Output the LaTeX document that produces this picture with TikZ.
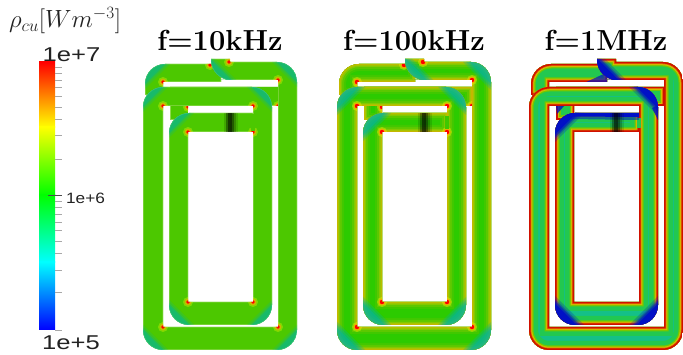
\documentclass[tikz,border=0pt]{standalone}
\usepackage{amsmath,amssymb}
\usepackage{xcolor}
\usepackage{fontspec}
\usepackage{tikz}
\newfontfamily\barfont{Liberation Sans}
\definecolor{redend}{HTML}{FF0000}
\definecolor{yellowmid}{HTML}{FFFF00}
\definecolor{greenmid}{HTML}{00FF00}
\definecolor{cyanmid}{HTML}{00FFFF}
\definecolor{blueend}{HTML}{0000FF}
\definecolor{tickgray}{HTML}{A8A8A8}
\definecolor{labdark}{HTML}{222222}
\definecolor{metalA}{HTML}{4CC800}
\definecolor{metalB}{HTML}{2CCB00}
\definecolor{metalC}{HTML}{14C088}
\definecolor{edgeA}{HTML}{8FD850}
\definecolor{bandBa}{HTML}{40C800}
\definecolor{bandBb}{HTML}{5CC800}
\definecolor{bandBc}{HTML}{84C800}
\definecolor{bandBd}{HTML}{A8C400}
\definecolor{bandBe}{HTML}{C4B800}
\definecolor{bandCa}{HTML}{22C850}
\definecolor{bandCb}{HTML}{70C800}
\definecolor{bandCc}{HTML}{D0C000}
\definecolor{bandCd}{HTML}{E07000}
\definecolor{bandCe}{HTML}{D01000}
\definecolor{tealglow}{HTML}{00B4A0}
\definecolor{blueglow}{HTML}{0010C8}
\definecolor{hotorange}{HTML}{FFA000}
\tikzset{
  tickline/.style={draw=tickgray, line width=0.8pt},
  barlab/.style={text=labdark, font=\barfont},
  title/.style={anchor=base, font=\fontsize{29}{32}\selectfont\bfseries},
}
% the winding, from the top lead round to the end of the inner strip
\newcommand{\spiralpath}{(211,59) [rounded corners=20pt] -- (211,80) -- (240,80) [sharp corners]
  -- (278,80) -- (278,327) -- (163,327) -- (163,106) -- (253,106) -- (253,302) -- (188,302)
  -- (188,132) -- (253,132) -- (253,113) [rounded corners=20pt] -- (169,113) -- (169,325)
  -- (272,325) -- (272,87) -- (143,87) -- (143,350) -- (297,350) -- (297,62) [sharp corners]
  -- (230,62) -- (230,59) -- cycle}
\newcommand{\backleftpath}{(221,64) [rounded corners=20pt] -- (145,64) [sharp corners]
  -- (145,95) -- (163,95) -- (163,82) -- (221,82) -- cycle}
\newcommand{\backlinkpath}{(170,120) -- (170,87) -- (278,87) -- (278,106) -- (188,106) -- (188,120) -- cycle}
% fill, edge bands, soft spots at the inner corners, then extras, all inside the shape
\newcommand{\layered}[4]{
  \begin{scope}
    \clip #1;
    \fill[#2] #1;
    \foreach \wd/\col in \layers { \draw[line width=\wd pt, draw=\col] #1; }
    \foreach \p in {#3} {
      \foreach \rad/\col/\op in \spots {
        \fill[\col, opacity=\op] \p circle (\rad pt);
      }
    }
    #4
  \end{scope}
}
% wedge on a rounded corner: corner x, corner y, direction x, direction y, colour
\newcommand{\glowturn}[5]{
  \foreach \len/\op in \glowlist {
    \fill[#5, opacity=\op] (#1+\len*#3,#2) -- (#1,#2) -- (#1,#2+\len*#4) -- cycle;
  }
}
\newcommand{\cornerset}{
  \glowturn{143}{87}{1}{1}{tealglow}
  \glowturn{272}{87}{-1}{1}{tealglow}
  \glowturn{169}{113}{1}{1}{tealglow}
  \glowturn{169}{325}{1}{-1}{tealglow}
  \glowturn{272}{325}{-1}{-1}{tealglow}
  \glowturn{143}{350}{1}{-1}{tealglow}
  \glowturn{297}{350}{-1}{-1}{tealglow}
  \glowturn{297}{62}{-1}{1}{tealglow}
  \glowturn{211}{80}{1}{-1}{tealglow}
}
% #1 shift, #2 metal colour, #3 extras on the winding, #4 extras on the back strips
\newcommand{\coilpanel}[4]{
  \begin{scope}[xshift=#1pt]
    \layered{\backleftpath}{#2}{(163,82),(210,65)}{#4}
    \layered{\backlinkpath}{#2}{(188,107),(278,106)}{#4}
    \layered{\spiralpath}{#2}{(163,106),(253,106),(188,132),(253,132),(188,302),(253,302),(163,327),(278,327),(278,80),(229,62)}{
      #3
      \foreach \xa/\op in {224/.15,226/.45,228/.72,230/.75,232/.55,234/.3,236/.12} {
        \fill[black, opacity=\op] (\xa,113) rectangle +(2,19);
      }
    }
  \end{scope}
}

\begin{document}
\begin{tikzpicture}[x=1pt,y=-1pt]
  \useasboundingbox (0,0) rectangle (683,355);

  % colour bar
  \foreach \ya/\yb/\ca/\cb in {62/127.2/redend/yellowmid, 127/195.2/yellowmid/greenmid,
      195/262.2/greenmid/cyanmid, 262/330/cyanmid/blueend} {
    \shade[top color=\ca, bottom color=\cb] (39,\ya) rectangle (55,\yb);
  }
  \foreach \ty in {67,73,80,87,96,107,119,135,159,201,207,214,222,230,241,253,270,292,330} {
    \draw[tickline] (55,\ty) -- (62,\ty);
  }
  \draw[tickline, draw=black!70] (48,195) -- (62,195);

  \node[text=labdark, font=\fontsize{24}{28}\selectfont] (unitlab) at (65,21) {$\rho_{cu}[Wm^{-3}]$};
  \node[barlab, font=\barfont\fontsize{20}{24}\selectfont, xscale=1.28] (maxlab) at (71.5,55) {1e+7};
  \node[barlab, font=\barfont\fontsize{15}{18}\selectfont, xscale=1.15] (midlab) at (85.5,198) {1e+6};
  \node[barlab, font=\barfont\fontsize{20}{24}\selectfont, xscale=1.28] (minlab) at (71,343) {1e+5};

  % 10 kHz
  \def\layers{1/edgeA}
  \def\spots{5/yellowmid/.3, 3.4/hotorange/.6, 1.9/redend/1}
  \def\glowlist{25/.2, 22/.3, 20/.4}
  \coilpanel{0}{metalA}{\cornerset \fill[metalA] (251,114) rectangle (255,131.5);}{\glowturn{145}{64}{1}{1}{tealglow}}

  % 100 kHz
  \def\layers{14/bandBa, 10/bandBb, 6/bandBc, 3.5/bandBd, 1.5/bandBe}
  \def\spots{5/yellowmid/.35, 3.6/hotorange/.7, 2.2/redend/1}
  \def\glowlist{28/.3, 25/.4, 22/.5}
  \coilpanel{194}{metalB}{\cornerset \fill[bandBa] (251,116) rectangle (255,129.5);}{}

  % 1 MHz
  \def\layers{18/bandCa, 9/bandCb, 6.5/bandCc, 4.5/bandCd, 3/bandCe}
  \def\spots{0/redend/0}
  \def\glowlist{29/.25, 26/.35, 24/.6, 21.5/.95}
  \coilpanel{386}{metalC}{
    \fill[bandCa] (251,118) rectangle (255,128);
    \glowturn{211}{80}{1}{-1}{blueglow}
    \glowturn{169}{113}{1}{1}{blueglow}
    \glowturn{272}{87}{-1}{1}{blueglow}
    \glowturn{169}{325}{1}{-1}{blueglow}
    \glowturn{272}{325}{-1}{-1}{blueglow}
    % band along the top of the inner strip
    \fill[blueglow, opacity=.5] (178,113) -- (253,113) -- (253,120) -- (185,119) -- cycle;
    \fill[blueglow] (178,113) -- (253,113) -- (253,117) -- (185,116.5) -- cycle;
    \fill[blueglow, opacity=.8] (272,105) -- (272,120) -- (266,108) -- cycle;
  }{
    \fill[blueglow, opacity=.8] (170,106) -- (178,106) -- (171,114) -- cycle;
    \fill[blueglow, opacity=.7] (196,84) -- (222,82) -- (222,72) -- cycle;
  }

  \node[title] (titleA) at (220,51) {f=10kHz};
  \node[title] (titleB) at (414,51) {f=100kHz};
  \node[title] (titleC) at (606,51) {f=1MHz};
\end{tikzpicture}
\end{document}
